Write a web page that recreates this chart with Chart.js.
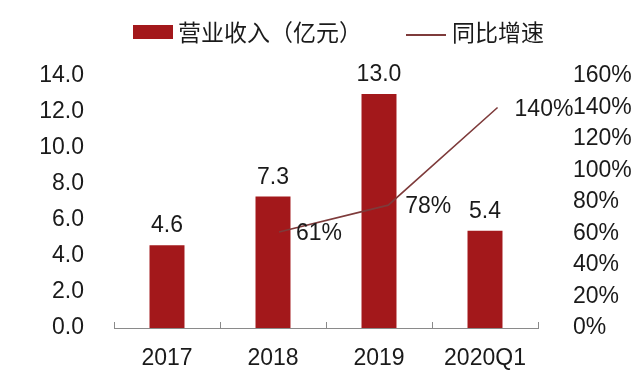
<!DOCTYPE html>
<html>
<head>
<meta charset="utf-8">
<script src="https://cdn.jsdelivr.net/npm/chart.js@4/dist/chart.umd.min.js"></script>
<style>
html,body{margin:0;padding:0;background:#fff;}
#wrap{width:640px;height:379px;position:relative;}
</style>
</head>
<body>
<div id="wrap"><canvas id="c" width="640" height="379"></canvas></div>
<script>
const categories = ['2017', '2018', '2019', '2020Q1'];
const revenue = [4.6, 7.3, 13.0, 5.4];
const growth = [null, 61, 78, 140];
const revenueLabels = ['4.6', '7.3', '13.0', '5.4'];
const growthLabels = ['', '61%', '78%', '140%'];
const seriesNames = ['营业收入（亿元）', '同比增速'];

const BAR_COLOR = '#A3181B';
const LINE_COLOR = '#7E3B3B';
const TEXT_COLOR = '#1a1a1a';
const NUM_FAMILY = '"Liberation Sans", Arial, sans-serif';
const NUM_FONT = '23px ' + NUM_FAMILY;
const CJK_FONT = '23px "Noto Sans CJK SC", sans-serif';

const linePoints = [];
growth.forEach((v, i) => { if (v !== null) linePoints.push({x: i, y: v}); });

const extras = {
  id: 'extras',
  afterDraw(chart) {
    const ctx = chart.ctx;
    const xs = chart.scales.x;
    const area = chart.chartArea;
    ctx.save();
    // inside tick marks on x axis at category boundaries
    ctx.strokeStyle = '#8a8a8a';
    ctx.lineWidth = 1;
    const n = categories.length;
    for (let i = 0; i <= n; i++) {
      const x = Math.round(xs.left + i * (xs.right - xs.left) / n) + 0.5;
      ctx.beginPath();
      ctx.moveTo(x, area.bottom);
      ctx.lineTo(x, area.bottom - 6);
      ctx.stroke();
    }
    // bar value labels
    ctx.fillStyle = TEXT_COLOR;
    ctx.font = NUM_FONT;
    ctx.textAlign = 'center';
    ctx.textBaseline = 'alphabetic';
    const barMeta = chart.getDatasetMeta(0);
    barMeta.data.forEach((el, i) => {
      ctx.fillText(revenueLabels[i], el.x, el.y - 13);
    });
    // line value labels
    const lineMeta = chart.getDatasetMeta(1);
    ctx.textAlign = 'left';
    ctx.textBaseline = 'middle';
    let k = 0;
    growth.forEach((v, i) => {
      if (v === null) return;
      const el = lineMeta.data[k++];
      ctx.fillText(growthLabels[i], el.x + 17, el.y + 2);
    });
    // legend
    const ly = 32;
    ctx.fillStyle = BAR_COLOR;
    ctx.fillRect(133, ly - 7, 40, 14);
    ctx.fillStyle = TEXT_COLOR;
    ctx.font = CJK_FONT;
    ctx.textAlign = 'left';
    ctx.textBaseline = 'middle';
    ctx.fillText(seriesNames[0], 178, ly);
    ctx.strokeStyle = LINE_COLOR;
    ctx.lineWidth = 2;
    ctx.beginPath();
    ctx.moveTo(406, ly + 3);
    ctx.lineTo(446, ly + 3);
    ctx.stroke();
    ctx.fillText(seriesNames[1], 452, ly);
    ctx.restore();
  }
};

new Chart(document.getElementById('c'), {
  data: {
    labels: categories,
    datasets: [
      {
        type: 'bar',
        label: seriesNames[0],
        data: revenue,
        backgroundColor: BAR_COLOR,
        borderWidth: 0,
        grouped: false,
        barPercentage: 0.33,
        categoryPercentage: 1,
        yAxisID: 'y',
        xAxisID: 'x',
        order: 2
      },
      {
        type: 'line',
        label: seriesNames[1],
        data: linePoints,
        borderColor: LINE_COLOR,
        borderWidth: 1.6,
        pointRadius: 0,
        fill: false,
        tension: 0,
        yAxisID: 'y1',
        xAxisID: 'x2',
        order: 1
      }
    ]
  },
  options: {
    responsive: false,
    animation: false,
    devicePixelRatio: 1,
    layout: {padding: {top: 76, left: 0, right: 0, bottom: 0}},
    plugins: {legend: {display: false}, tooltip: {enabled: false}},
    scales: {
      x: {
        type: 'category',
        position: 'bottom',
        offset: true,
        grid: {display: false},
        border: {display: true, color: '#8a8a8a', width: 1},
        ticks: {color: TEXT_COLOR, font: {family: NUM_FAMILY, size: 23}, padding: 9, maxRotation: 0, autoSkip: false},
        afterFit(s) { s.height = 51; }
      },
      x2: {
        type: 'linear',
        position: 'bottom',
        display: false,
        min: -0.51,
        max: 3.37
      },
      y: {
        position: 'left',
        min: 0, max: 14,
        grid: {display: false},
        border: {display: false},
        ticks: {stepSize: 2, color: TEXT_COLOR, padding: 22, font: {family: NUM_FAMILY, size: 23}, callback: v => v.toFixed(1)},
        afterFit(s) { s.width = 114; }
      },
      y1: {
        position: 'right',
        min: 0, max: 160,
        grid: {display: false},
        border: {display: false},
        ticks: {stepSize: 20, color: TEXT_COLOR, padding: 27, font: {family: NUM_FAMILY, size: 23}, callback: v => v + '%'},
        afterFit(s) { s.width = 102; }
      }
    }
  },
  plugins: [extras]
});
</script>
</body>
</html>
